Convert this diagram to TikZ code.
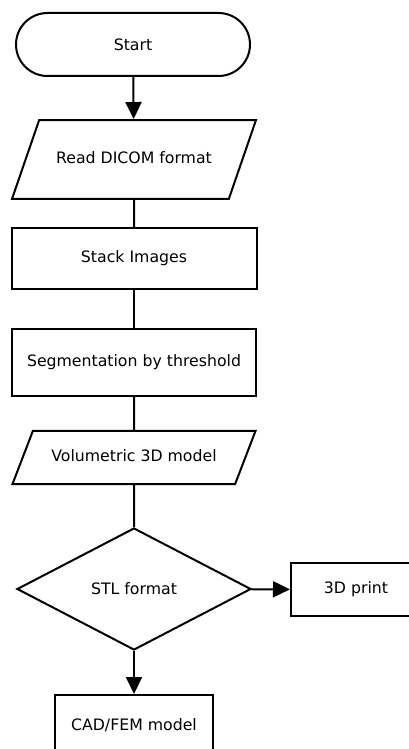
\documentclass[tikz,border=0pt]{standalone}
\usepackage{fontspec}
\setmainfont{DejaVu Sans}
\usetikzlibrary{shapes.geometric, shapes.misc, arrows.meta}

\begin{document}
\begin{tikzpicture}[x=0.75pt,y=0.75pt,yscale=-1,xscale=1,
    every node/.style={draw, line width=1.5pt, inner sep=0.75pt, font=\fontsize{11.8}{13}\selectfont},
    startbox/.style={rounded rectangle, minimum width=177pt, minimum height=47.25pt},
    iobox/.style={trapezium, trapezium stretches body=true, text height=8.5pt, text depth=2.5pt,
        trapezium left angle=71, trapezium right angle=109},
    procbox/.style={rectangle},
    decbox/.style={diamond, minimum width=175.5pt, minimum height=91.5pt},
    link/.style={line width=1.5pt},
    flow/.style={line width=1.5pt, -{Triangle[width=12pt,length=12.75pt]}}]
    \useasboundingbox (0,0) rectangle (409,749);

    % Start
    \node [startbox] (start) at (133,44.5) {Start};
    % Read DICOM
    \node [iobox, minimum width=183pt, inner ysep=24.1pt] (read) at (134,159.5) {Read DICOM format};
    % Stack Images
    \node [procbox, minimum width=183.75pt, minimum height=45.75pt] (stack) at (134,258.5) {Stack Images};
    % Segmentation
    \node [procbox, minimum width=183pt, minimum height=50.25pt] (seg) at (134,362.5) {Segmentation by threshold};
    % Volumetric model
    \node [iobox, trapezium left angle=69, trapezium right angle=111, minimum width=182.25pt, inner ysep=14.4pt] (vol) at (134,457.5) {Volumetric 3D model};
    % STL format
    \node [decbox] (stl) at (134,589) {STL format};
    % 3D print
    \node [procbox, minimum width=97.5pt, minimum height=39.75pt] (print) at (356,589.5) {3D print};
    % CAD/FEM model
    \node [procbox, minimum width=118.5pt, minimum height=45pt] (cad) at (134,725) {CAD/FEM model};

    % Connectors
    \draw [flow] (start) -- (read);
    \draw [link] (read) -- (stack);
    \draw [link] (stack) -- (seg);
    \draw [link] (seg) -- (vol);
    \draw [link] (vol) -- (stl);
    \draw [flow] (stl) -- (print);
    \draw [flow] (stl) -- (cad);

\end{tikzpicture}
\end{document}
